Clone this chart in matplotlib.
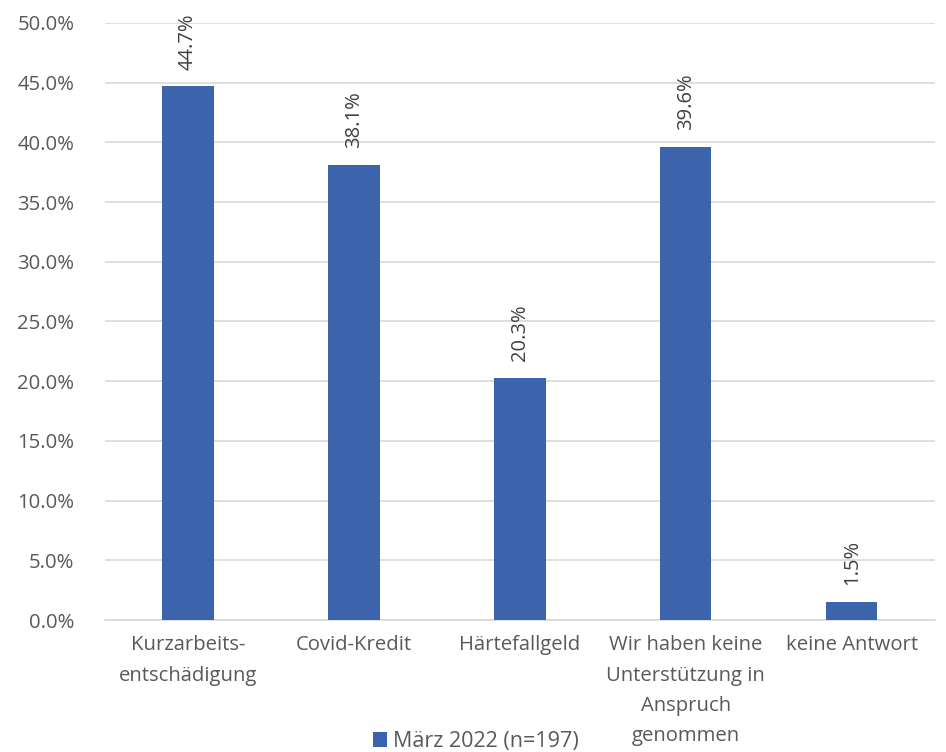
import matplotlib.pyplot as plt
import numpy as np

plt.rcParams['font.family'] = ['Open Sans', 'DejaVu Sans']

# Daten
kategorien = ["Kurzarbeits-\nentschädigung", "Covid-Kredit", "Härtefallgeld",
              "Wir haben keine\nUnterstützung in\nAnspruch\ngenommen", "keine Antwort"]
werte = [0.447, 0.381, 0.203, 0.396, 0.015]
serie = "März 2022 (n=197)"

farbe = '#3C64AC'

fig = plt.figure(figsize=(9.46, 7.52), dpi=100)
ax = fig.add_axes([0.111, 0.1755, 0.877, 0.794])

x = np.arange(len(werte))
bars = ax.bar(x, werte, width=0.31, color=farbe, label=serie, zorder=3)

for b, v in zip(bars, werte):
    ax.annotate("%.1f%%" % (v * 100), xy=(b.get_x() + b.get_width() / 2, v),
                xytext=(0, 12), textcoords='offset points', rotation=90,
                ha='center', va='bottom', fontsize=14.5, color='#404040')

ax.set_xlim(-0.5, len(werte) - 0.5)
ax.set_ylim(0, 0.5)
ax.set_yticks(np.arange(0, 0.501, 0.05))
ax.set_yticklabels(["%.1f%%" % (t * 100) for t in np.arange(0, 0.501, 0.05)])
ax.set_xticks(x)
ax.set_xticklabels(kategorien, linespacing=1.68)
ax.tick_params(axis='both', length=0, labelsize=14.6, colors='#595959')
ax.tick_params(axis='x', pad=11)
ax.tick_params(axis='y', pad=22)
ax.yaxis.grid(True, color='#D9D9D9', linewidth=1.2, zorder=0)
for s in ['top', 'right', 'left']:
    ax.spines[s].set_visible(False)
ax.spines['bottom'].set_color('#D9D9D9')
ax.spines['bottom'].set_linewidth(1.2)

fig.legend(loc='lower center', bbox_to_anchor=(0.503, -0.026), frameon=False,
           fontsize=15.5, labelcolor='#595959', handlelength=0.65, handleheight=0.65,
           handletextpad=0.25)

fig.savefig("out.png", dpi=100)
